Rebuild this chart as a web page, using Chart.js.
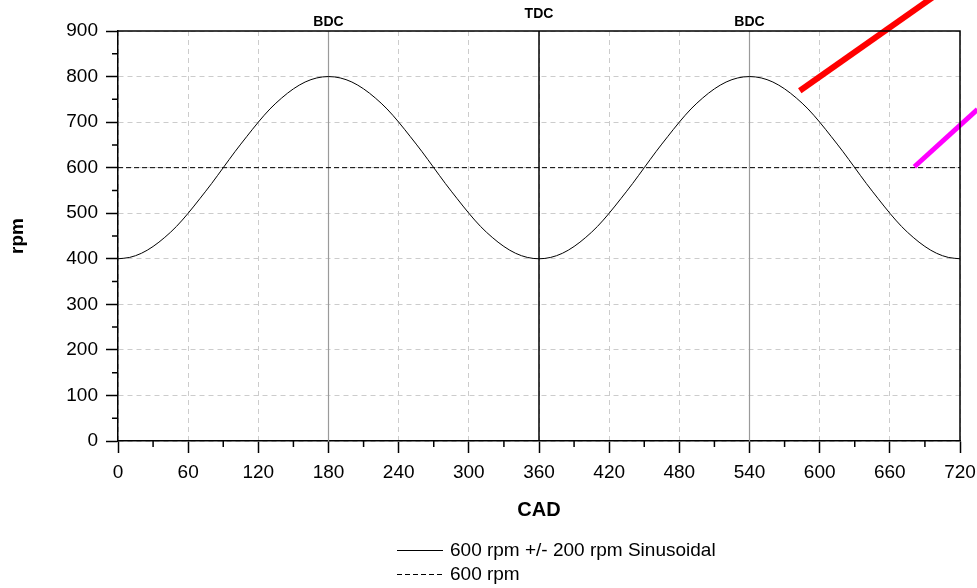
<!DOCTYPE html>
<html>
<head>
<meta charset="utf-8">
<script src="https://cdn.jsdelivr.net/npm/chart.js@4/dist/chart.umd.min.js"></script>
<style>
  html, body { margin: 0; padding: 0; background: #fff; }
  #wrap { width: 977px; height: 588px; }
</style>
</head>
<body>
<div id="wrap"><canvas id="rpmChart" width="977" height="588"></canvas></div>
<script>
// crank angle (CAD) samples and the speed
const cad = [0, 10, 20, 30, 40, 50, 60, 70, 80, 90, 100, 110, 120, 130, 140, 150, 160, 170, 180,
  190, 200, 210, 220, 230, 240, 250, 260, 270, 280, 290, 300, 310, 320, 330, 340, 350, 360,
  370, 380, 390, 400, 410, 420, 430, 440, 450, 460, 470, 480, 490, 500, 510, 520, 530, 540,
  550, 560, 570, 580, 590, 600, 610, 620, 630, 640, 650, 660, 670, 680, 690, 700, 710, 720];
const rpmSine = [400, 403, 412, 427, 447, 471, 500, 532, 565, 600, 635, 668, 700, 729, 753, 773, 788, 797, 800,
  797, 788, 773, 753, 729, 700, 668, 635, 600, 565, 532, 500, 471, 447, 427, 412, 403, 400,
  403, 412, 427, 447, 471, 500, 532, 565, 600, 635, 668, 700, 729, 753, 773, 788, 797, 800,
  797, 788, 773, 753, 729, 700, 668, 635, 600, 565, 532, 500, 471, 447, 427, 412, 403, 400];

// constant reference speed
const rpmMean = 600;

// dead centre markers
const markerCad = [180, 360, 540];
const markerNames = ['BDC', 'TDC', 'BDC'];

// the two stray coloured strokes (start / end points in data units)
const redStroke = [[583, 769], [700, 980]];
const magentaStroke = [[681, 602], [735, 728]];

// axis tick values
const xTicks = [0, 60, 120, 180, 240, 300, 360, 420, 480, 540, 600, 660, 720];
const yTicks = [0, 100, 200, 300, 400, 500, 600, 700, 800, 900];

const FONT = 'Arial, "Liberation Sans", Helvetica, sans-serif';

let sinePoints = [];
for (let i = 0; i < cad.length; i++) {
    sinePoints.push({ x: cad[i], y: rpmSine[i] });
}

let datasets = [
    {
        label: '600 rpm +/- 200 rpm Sinusoidal',
        data: sinePoints,
        borderColor: '#000',
        borderWidth: 1,
        pointRadius: 0,
        cubicInterpolationMode: 'monotone',
        inLegend: true,
        order: 1
    },
    {
        label: '600 rpm',
        data: [{ x: xTicks[0], y: rpmMean }, { x: xTicks[xTicks.length - 1], y: rpmMean }],
        borderColor: '#000',
        borderWidth: 1,
        borderDash: [5, 3],
        pointRadius: 0,
        inLegend: true,
        order: 2
    }
];

// vertical dead-centre lines
for (let i = 0; i < markerCad.length; i++) {
    let isTdc = markerNames[i] === 'TDC';
    datasets.push({
        label: markerNames[i],
        data: [{ x: markerCad[i], y: yTicks[0] }, { x: markerCad[i], y: yTicks[yTicks.length - 1] }],
        borderColor: isTdc ? '#000' : '#9a9a9a',
        borderWidth: isTdc ? 1.5 : 1.2,
        pointRadius: 0,
        order: 3
    });
}

datasets.push({
    label: 'red',
    data: redStroke.map(function(p) { return { x: p[0], y: p[1] }; }),
    borderColor: '#ff0000',
    borderWidth: 6,
    pointRadius: 0,
    clip: false,
    order: 0
});
datasets.push({
    label: 'magenta',
    data: magentaStroke.map(function(p) { return { x: p[0], y: p[1] }; }),
    borderColor: '#ff00ff',
    borderWidth: 5,
    pointRadius: 0,
    clip: false,
    order: 0
});

// minor ticks, frame, marker labels and the legend block
const extras = {
    id: 'extras',
    afterDraw: function(chart) {
        const ctx = chart.ctx;
        const xs = chart.scales.x;
        const ys = chart.scales.y;
        const area = chart.chartArea;
        ctx.save();

        // frame top and right
        ctx.strokeStyle = '#000';
        ctx.lineWidth = 1.5;
        ctx.beginPath();
        ctx.moveTo(area.left, area.top);
        ctx.lineTo(area.right, area.top);
        ctx.lineTo(area.right, area.bottom);
        ctx.stroke();

        // minor ticks
        ctx.lineWidth = 1.5;
        ctx.beginPath();
        for (let i = 0; i < xTicks.length - 1; i++) {
            let px = xs.getPixelForValue((xTicks[i] + xTicks[i + 1]) / 2);
            ctx.moveTo(px, area.bottom);
            ctx.lineTo(px, area.bottom + 6);
        }
        for (let i = 0; i < yTicks.length - 1; i++) {
            let py = ys.getPixelForValue((yTicks[i] + yTicks[i + 1]) / 2);
            ctx.moveTo(area.left, py);
            ctx.lineTo(area.left - 6, py);
        }
        ctx.stroke();

        // BDC / TDC labels
        ctx.fillStyle = '#000';
        ctx.font = 'bold 14px ' + FONT;
        ctx.textAlign = 'center';
        ctx.textBaseline = 'middle';
        for (let i = 0; i < markerCad.length; i++) {
            let px = xs.getPixelForValue(markerCad[i]);
            let py = markerNames[i] === 'TDC' ? area.top - 17 : area.top - 9;
            ctx.fillText(markerNames[i], px, py);
        }

        // legend
        ctx.font = '19px ' + FONT;
        ctx.textAlign = 'left';
        let row = 0;
        chart.data.datasets.forEach(function(ds) {
            if (!ds.inLegend) return;
            let y = 550 + row * 24;
            ctx.strokeStyle = ds.borderColor;
            ctx.lineWidth = 1;
            ctx.setLineDash(ds.borderDash || []);
            ctx.beginPath();
            ctx.moveTo(397, y + 0.5);
            ctx.lineTo(443, y + 0.5);
            ctx.stroke();
            ctx.setLineDash([]);
            ctx.fillText(ds.label, 450, y + 1);
            row++;
        });
        ctx.restore();
    }
};

new Chart(document.getElementById('rpmChart'), {
    type: 'line',
    data: { datasets: datasets },
    options: {
        responsive: false,
        animation: false,
        events: [],
        layout: { padding: { top: 31, right: 17, left: 0, bottom: 0 } },
        plugins: {
            legend: { display: false },
            tooltip: { enabled: false }
        },
        scales: {
            x: {
                type: 'linear',
                min: xTicks[0],
                max: xTicks[xTicks.length - 1],
                afterFit: function(s) { s.height = 147; s.paddingLeft = 0; s.paddingRight = 0; },
                afterBuildTicks: function(s) { s.ticks = xTicks.map(function(v) { return { value: v }; }); },
                ticks: { color: '#000', font: { family: FONT, size: 19 }, padding: 8, maxRotation: 0, autoSkip: false },
                grid: {
                    color: '#cccccc',
                    tickLength: 12,
                    tickColor: '#000',
                    tickWidth: 1.5,
                    tickBorderDash: []
                },
                border: { color: '#000', width: 1.5, dash: [5, 4] },
                title: {
                    display: true,
                    text: 'CAD',
                    color: '#000',
                    font: { family: FONT, size: 20, weight: 'bold' },
                    padding: { bottom: 66 }
                }
            },
            y: {
                min: yTicks[0],
                max: yTicks[yTicks.length - 1],
                afterFit: function(s) { s.width = 118; s.paddingTop = 0; s.paddingBottom = 0; },
                afterBuildTicks: function(s) { s.ticks = yTicks.map(function(v) { return { value: v }; }); },
                ticks: { color: '#000', font: { family: FONT, size: 19 }, padding: 8 },
                grid: {
                    color: '#cccccc',
                    tickLength: 12,
                    tickColor: '#000',
                    tickWidth: 1.5,
                    tickBorderDash: []
                },
                border: { color: '#000', width: 1.5, dash: [5, 4] },
                title: {
                    display: true,
                    text: 'rpm',
                    color: '#000',
                    font: { family: FONT, size: 19, weight: 'bold' },
                    padding: { top: 6 }
                }
            }
        }
    },
    plugins: [extras]
});
</script>
</body>
</html>
